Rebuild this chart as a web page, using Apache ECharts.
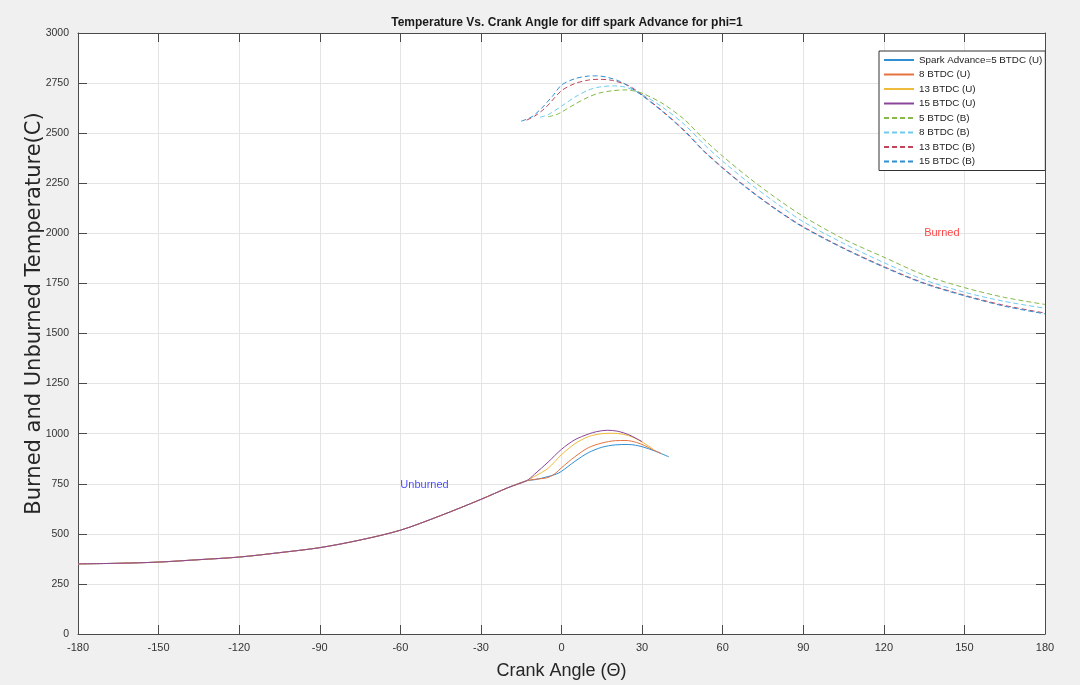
<!DOCTYPE html>
<html><head><meta charset="utf-8">
<script src="https://cdn.jsdelivr.net/npm/echarts@6/dist/echarts.min.js"></script>
<style>html,body{margin:0;padding:0;background:#f0f0f0}#c{width:1080px;height:685px}</style>
</head><body><div id="c"></div>
<script>
// ---- data ----
const seriesNames = ['Spark Advance=5 BTDC (U)','8 BTDC (U)','13 BTDC (U)','15 BTDC (U)','5 BTDC (B)','8 BTDC (B)','13 BTDC (B)','15 BTDC (B)'];

// shared unburned compression part
const uCommonAngle = [-180,-165,-150,-135,-120,-105,-90,-75,-60,-45,-30,-20,-13];
const uCommonTemp  = [350,353,359,371,384,406,431,469,518,591,672,730,765];

// unburned branches
const u5Angle  = [-10,-5,-2,0,5,10,15,20,25,30,35,40];
const u5Temp   = [770,786,798,812,862,905,932,944,946,935,912,884];
const u8Angle  = [-10,-5,-2,0,5,10,15,20,24,28,31,34,37];
const u8Temp   = [772,781,805,830,885,930,953,965,966,956,940,920,902];
const u13Angle = [-10,-5,0,5,10,15,19,23,27,30,34];
const u13Temp  = [787,827,895,950,985,1000,1002,997,980,958,925];
const u15Angle = [-10,-5,0,5,10,13,17,21,25,28,30];
const u15Temp  = [798,858,922,970,998,1010,1017,1012,995,975,960];

// burned zone
const b5Angle  = [-5,-2,0,5,10,14,19,24,28,31,38,46,53,60,70,80,90,105,120,135,150,165,180];
const b5Temp   = [2582,2592,2605,2645,2680,2700,2712,2716,2708,2694,2645,2565,2470,2385,2275,2175,2085,1972,1881,1792,1729,1680,1645];
const b8Angle  = [-8,-5,0,5,10,14,19,24,30,38,46,53,60,70,80,90,105,120,135,150,165,180];
const b8Temp   = [2580,2592,2635,2680,2715,2730,2736,2729,2693,2626,2540,2445,2360,2250,2150,2058,1950,1854,1768,1706,1660,1626];
const b13Angle = [-13,-10,-7,-5,0,5,10,14,19,25,30,38,46,53,60,70,80,90,105,120,135,150,165,180];
const b13Temp  = [2565,2585,2615,2640,2712,2748,2765,2769,2763,2737,2691,2606,2510,2412,2328,2218,2120,2033,1927,1834,1752,1691,1640,1602];
const b15Angle = [-15,-12,-10,-7,-5,-3,0,5,10,13,17,22,26,30,38,46,53,60,70,80,90,105,120,135,150,165,180];
const b15Temp  = [2560,2575,2592,2630,2660,2690,2740,2772,2785,2786,2779,2757,2725,2688,2603,2507,2409,2325,2215,2117,2030,1924,1831,1749,1688,1636,1598];

const noteText = ['Burned','Unburned'];
const noteX = [135,-60];
const noteY = [2000,745];

// ---- build ----
const pairs = (xs, ys) => xs.map((x, i) => [x, ys[i]]);
const common = pairs(uCommonAngle, uCommonTemp);
const seriesData = [
  common.concat(pairs(u5Angle, u5Temp)),
  common.concat(pairs(u8Angle, u8Temp)),
  common.concat(pairs(u13Angle, u13Temp)),
  common.concat(pairs(u15Angle, u15Temp)),
  pairs(b5Angle, b5Temp),
  pairs(b8Angle, b8Temp),
  pairs(b13Angle, b13Temp),
  pairs(b15Angle, b15Temp)
];
const colors = ['#2f8fd2','#e5733f','#efbb3c','#8a449a','#86b84a','#70ccef','#c24458','#2f8fd2'];
const dashed = [false,false,false,false,true,true,true,true];
const FONT = '"Liberation Sans", Arial, Helvetica, sans-serif';
const axisColor = '#4a4a4a';

const series = seriesData.map((d, i) => ({
  name: seriesNames[i],
  type: 'line',
  data: d,
  smooth: 0.3,
  symbol: 'none',
  showSymbol: false,
  silent: true,
  lineStyle: { color: colors[i], width: 1, type: dashed[i] ? [5, 3] : 'solid' },
  itemStyle: { color: colors[i] }
}));
const noteColors = ['#ff1a1a', '#1a1aff'];
noteText.forEach((t, i) => {
  series.push({
    type: 'scatter', name: 'note' + i, silent: true,
    data: [[noteX[i], noteY[i]]],
    symbolSize: 0,
    label: { show: true, position: 'right', distance: 0, formatter: t,
             color: noteColors[i], fontSize: 11, fontFamily: FONT }
  });
});

const chart = echarts.init(document.getElementById('c'), null, { renderer: 'canvas' });
chart.setOption({
  backgroundColor: '#f0f0f0',
  animation: false,
  title: {
    text: 'Temperature Vs. Crank Angle for diff spark Advance for phi=1',
    left: 562, top: 12, textAlign: 'center',
    textStyle: { fontFamily: FONT, fontSize: 12, fontWeight: 'bold', color: '#1a1a1a' }
  },
  grid: { left: 78, right: 35, top: 33, bottom: 51, show: true, backgroundColor: '#ffffff', borderWidth: 0, containLabel: false },
  legend: {
    data: seriesNames,
    orient: 'vertical',
    left: 879, top: 51,
    itemWidth: 30, itemHeight: 12, itemGap: 4.5,
    padding: [4, 3, 4, 4],
    backgroundColor: '#ffffff',
    borderColor: '#333333', borderWidth: 1, borderRadius: 0,
    itemStyle: { opacity: 0, borderWidth: 0 },
    textStyle: { fontFamily: FONT, fontSize: 9.8, color: '#222222' }
  },
  xAxis: [{
    type: 'value', min: -180, max: 180, interval: 30, position: 'bottom',
    axisLine: { onZero: false, lineStyle: { color: axisColor, width: 1 } },
    axisTick: { inside: true, length: 9, lineStyle: { color: axisColor } },
    axisLabel: { fontFamily: FONT, fontSize: 11, color: '#333', margin: 8, formatter: v => String(v) },
    splitLine: { show: true, lineStyle: { color: '#e4e4e4', width: 1 } },
    name: 'Crank Angle (Θ)', nameLocation: 'middle', nameGap: 28,
    nameTextStyle: { fontFamily: FONT, fontSize: 18, color: '#262626' }
  }, {
    type: 'value', min: -180, max: 180, interval: 30, position: 'top',
    axisLine: { onZero: false, lineStyle: { color: axisColor, width: 1 } },
    axisTick: { inside: true, length: 9, lineStyle: { color: axisColor } },
    axisLabel: { show: false }, splitLine: { show: false }
  }],
  yAxis: [{
    type: 'value', min: 0, max: 3000, interval: 250, position: 'left',
    axisLine: { show: true, onZero: false, lineStyle: { color: axisColor, width: 1 } },
    axisTick: { show: true, inside: true, length: 9, lineStyle: { color: axisColor } },
    axisLabel: { fontFamily: FONT, fontSize: 10.5, color: '#333', margin: 9, formatter: v => String(v) },
    splitLine: { show: true, lineStyle: { color: '#e4e4e4', width: 1 } },
    name: 'Burned and Unburned Temperature(C)', nameLocation: 'middle', nameGap: 33,
    nameMoveOverlap: false,
    nameTextStyle: { fontFamily: '"DejaVu Sans", sans-serif', fontSize: 21, color: '#262626', padding: [0, 0, 0, 40] }
  }, {
    type: 'value', min: 0, max: 3000, interval: 250, position: 'right',
    axisLine: { show: true, onZero: false, lineStyle: { color: axisColor, width: 1 } },
    axisTick: { show: true, inside: true, length: 9, lineStyle: { color: axisColor } },
    axisLabel: { show: false }, splitLine: { show: false }
  }],
  series: series
});
</script></body></html>
